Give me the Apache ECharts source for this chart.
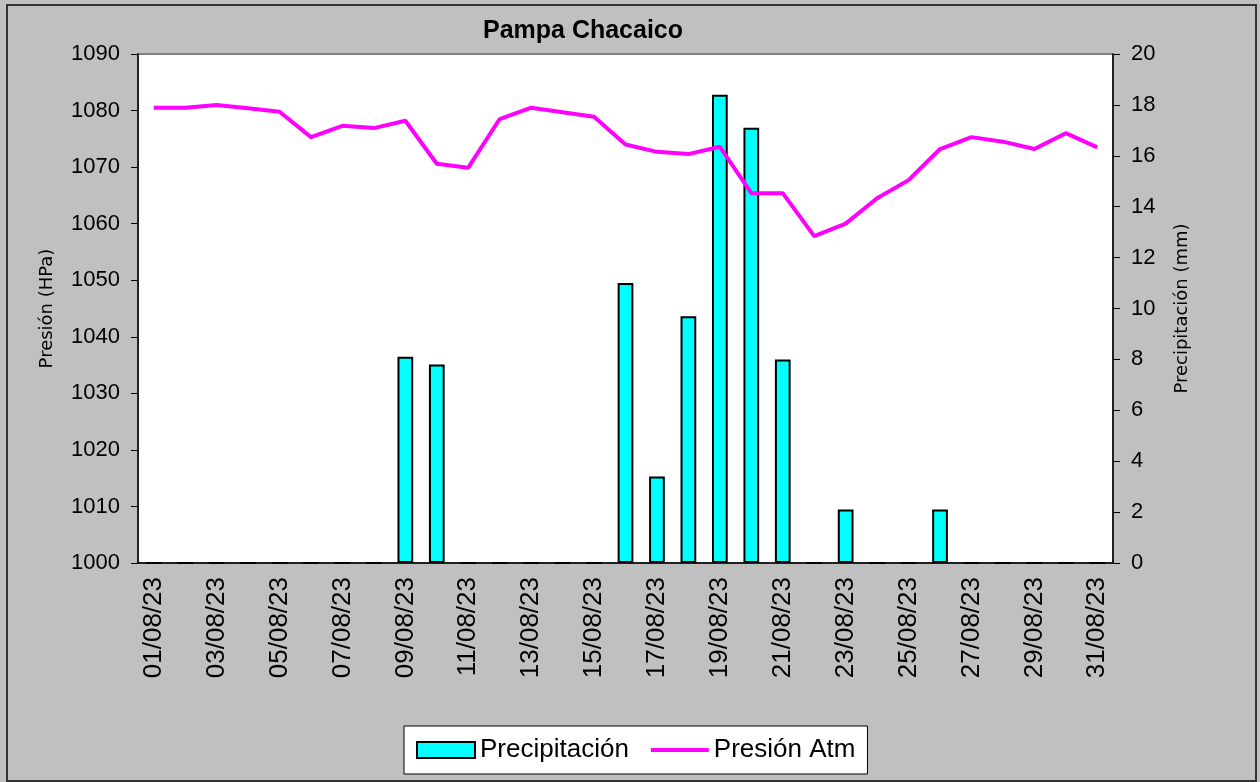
<!DOCTYPE html>
<html>
<head>
<meta charset="utf-8">
<title>Pampa Chacaico</title>
<script src="https://cdn.jsdelivr.net/npm/echarts@6/dist/echarts.min.js"></script>
<style>
  html, body { margin: 0; padding: 0; background: #c0c0c0; }
  #chart { width: 1260px; height: 782px; }
</style>
</head>
<body>
<div id="chart"></div>
<script>
// dias de agosto 2023
const dias = ['01/08/23', '02/08/23', '03/08/23', '04/08/23', '05/08/23', '06/08/23', '07/08/23', '08/08/23',
  '09/08/23', '10/08/23', '11/08/23', '12/08/23', '13/08/23', '14/08/23', '15/08/23', '16/08/23',
  '17/08/23', '18/08/23', '19/08/23', '20/08/23', '21/08/23', '22/08/23', '23/08/23', '24/08/23',
  '25/08/23', '26/08/23', '27/08/23', '28/08/23', '29/08/23', '30/08/23', '31/08/23']

// precipitacion (mm)
const precipitacion = [0, 0, 0, 0, 0, 0, 0, 0, 8.1, 7.8, 0, 0, 0, 0, 0, 11.0,
  3.4, 9.7, 18.4, 17.1, 8.0, 0, 2.1, 0, 0, 2.1, 0, 0, 0, 0, 0]

// presion atmosferica (hPa)
const presion = [1080.5, 1080.5, 1081.0, 1080.4, 1079.8, 1075.3, 1077.3, 1076.9, 1078.2, 1070.6, 1069.9,
  1078.5, 1080.5, 1079.7, 1078.9, 1074.0, 1072.7, 1072.3, 1073.6, 1065.4, 1065.4, 1057.8, 1060.0,
  1064.5, 1067.7, 1073.2, 1075.3, 1074.5, 1073.2, 1076.0, 1073.5]

const fuente = 'Liberation Sans, Arial, sans-serif'

let mychart = echarts.init(document.getElementById('chart'))

let option = {
  backgroundColor: '#c0c0c0',
  animation: false,
  title: {
    text: 'Pampa Chacaico',
    left: 578,
    textAlign: 'center',
    top: 14,
    textStyle: { fontFamily: fuente, fontSize: 25, fontWeight: 'bold', color: '#000' }
  },
  // marco exterior
  graphic: [{
    type: 'rect',
    shape: { x: 7, y: 5, width: 1249, height: 776 },
    style: { fill: 'none', stroke: '#333', lineWidth: 2 },
    silent: true
  }],
  legend: {
    left: 404,
    top: 726,
    padding: [11, 12, 11, 12],
    itemGap: 20,
    itemWidth: 58,
    itemHeight: 16,
    backgroundColor: '#fff',
    borderColor: '#000',
    borderWidth: 1,
    textStyle: { fontFamily: fuente, fontSize: 26, color: '#000' },
    data: [
      { name: 'Precipitación', icon: 'rect' },
      // solo la linea, sin simbolo
      { name: 'Presión Atm', itemStyle: { opacity: 0 }, lineStyle: { width: 4, color: '#ff00ff' } }
    ]
  },
  grid: {
    left: 138,
    right: 147,
    top: 54,
    bottom: 219,
    show: true,
    backgroundColor: '#fff',
    borderColor: '#808080',
    borderWidth: 2
  },
  xAxis: {
    type: 'category',
    data: dias,
    boundaryGap: true,
    axisLine: { lineStyle: { color: '#000', width: 1.5 } },
    axisTick: { interval: 0, length: 7, lineStyle: { color: '#000' } },
    axisLabel: {
      interval: 1,
      rotate: 90,
      margin: 14,
      fontFamily: fuente,
      fontSize: 26,
      color: '#000'
    }
  },
  yAxis: [
    {
      type: 'value',
      min: 1000,
      max: 1090,
      interval: 10,
      name: 'Presión (HPa)',
      nameLocation: 'middle',
      nameRotate: 90,
      nameGap: 82,
      nameTextStyle: { fontFamily: 'DejaVu Sans', fontSize: 18, color: '#000' },
      axisLine: { show: true, lineStyle: { color: '#000', width: 1.5 } },
      axisTick: { show: true, length: 7, lineStyle: { color: '#000' } },
      axisLabel: {
        margin: 18,
        fontFamily: fuente,
        fontSize: 22,
        color: '#000',
        formatter: function (v) { return String(v) }
      },
      splitLine: { show: false }
    },
    {
      type: 'value',
      min: 0,
      max: 20,
      interval: 2,
      name: 'Precipitación (mm)',
      nameLocation: 'middle',
      nameRotate: 90,
      nameGap: 60,
      nameTextStyle: { fontFamily: 'DejaVu Sans', fontSize: 18, color: '#000' },
      axisLine: { show: true, lineStyle: { color: '#000', width: 1.5 } },
      axisTick: { show: true, length: 7, lineStyle: { color: '#000' } },
      axisLabel: { margin: 18, fontFamily: fuente, fontSize: 22, color: '#000' },
      splitLine: { show: false }
    }
  ],
  series: [
    {
      name: 'Precipitación',
      type: 'bar',
      yAxisIndex: 1,
      barWidth: '50%',
      data: precipitacion,
      itemStyle: { color: '#00ffff', borderColor: '#000', borderWidth: 2 }
    },
    {
      name: 'Presión Atm',
      type: 'line',
      yAxisIndex: 0,
      symbol: 'none',
      data: presion,
      itemStyle: { color: '#ff00ff' },
      lineStyle: { color: '#ff00ff', width: 4 }
    }
  ]
}

mychart.setOption(option)
</script>
</body>
</html>
